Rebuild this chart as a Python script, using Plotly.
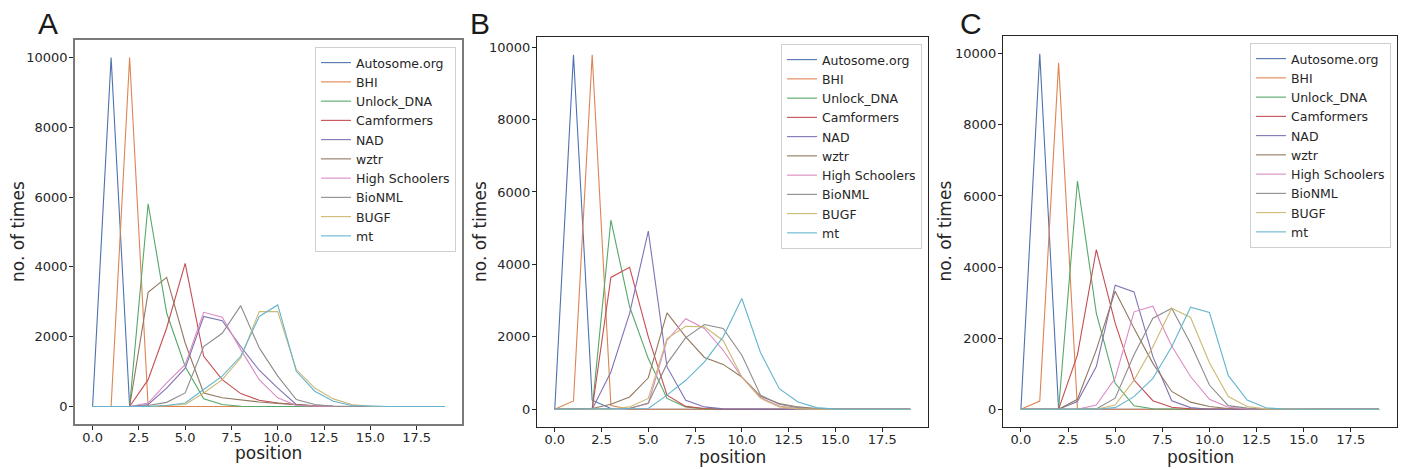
import plotly.graph_objects as go

positions = list(range(20))
team_names = ["Autosome.org", "BHI", "Unlock_DNA", "Camformers", "NAD", "wztr",
              "High Schoolers", "BioNML", "BUGF", "mt"]
team_colors = ["#4C72B0", "#DD8452", "#55A868", "#C44E52", "#8172B3", "#937860",
               "#DA8BC3", "#8C8C8C", "#CCB974", "#64B5CD"]
panel_letters = ["A", "B", "C"]
x_title = "position"
y_title = "no. of times"
x_tick_vals = [0, 2.5, 5, 7.5, 10, 12.5, 15, 17.5]
y_tick_vals = [0, 2000, 4000, 6000, 8000, 10000]

# ---- Panel A ----
a_autosome = [0, 10000, 0, 0, 0, 0, 0, 0, 0, 0, 0, 0, 0, 0, 0, 0, 0, 0, 0, 0]
a_bhi = [0, 0, 10000, 0, 0, 0, 0, 0, 0, 0, 0, 0, 0, 0, 0, 0, 0, 0, 0, 0]
a_unlock = [0, 0, 0, 5810, 2680, 1150, 220, 57, 10, 0, 0, 0, 0, 0, 0, 0, 0, 0, 0, 0]
a_camformers = [0, 0, 0, 770, 2250, 4100, 1440, 770, 370, 180, 100, 57, 20, 5, 0, 0, 0, 0, 0, 0]
a_nad = [0, 0, 0, 60, 530, 1100, 2580, 2460, 1720, 1040, 530, 60, 10, 0, 0, 0, 0, 0, 0, 0]
a_wztr = [0, 0, 0, 3270, 3700, 1820, 390, 250, 180, 130, 90, 50, 20, 10, 0, 0, 0, 0, 0, 0]
a_highschool = [0, 0, 0, 100, 680, 1200, 2700, 2560, 1630, 770, 250, 30, 5, 0, 0, 0, 0, 0, 0, 0]
a_bionml = [0, 0, 0, 30, 120, 390, 1720, 2100, 2890, 1680, 870, 200, 60, 10, 0, 0, 0, 0, 0, 0]
a_bugf = [0, 0, 0, 0, 30, 57, 390, 770, 1390, 2720, 2720, 1060, 530, 220, 57, 10, 0, 0, 0, 0]
a_mt = [0, 0, 0, 0, 30, 100, 490, 870, 1440, 2580, 2910, 1010, 440, 150, 30, 5, 0, 0, 0, 0]

# ---- Panel B ----
b_autosome = [0, 9790, 250, 20, 0, 0, 0, 0, 0, 0, 0, 0, 0, 0, 0, 0, 0, 0, 0, 0]
b_bhi = [0, 230, 9790, 100, 0, 0, 0, 0, 0, 0, 0, 0, 0, 0, 0, 0, 0, 0, 0, 0]
b_unlock = [0, 0, 0, 5225, 2830, 1400, 300, 65, 10, 0, 0, 0, 0, 0, 0, 0, 0, 0, 0, 0]
b_camformers = [0, 0, 0, 3640, 3920, 2000, 390, 80, 20, 0, 0, 0, 0, 0, 0, 0, 0, 0, 0, 0]
b_nad = [0, 0, 0, 1030, 2650, 4920, 1170, 250, 65, 10, 0, 0, 0, 0, 0, 0, 0, 0, 0, 0]
b_wztr = [0, 0, 20, 140, 340, 870, 2660, 2000, 1430, 1240, 890, 360, 160, 65, 20, 0, 0, 0, 0, 0]
b_highschool = [0, 0, 0, 0, 30, 160, 1900, 2500, 2230, 1630, 890, 320, 90, 20, 0, 0, 0, 0, 0, 0]
b_bionml = [0, 0, 0, 0, 20, 175, 1260, 1980, 2340, 2230, 1490, 390, 140, 45, 10, 0, 0, 0, 0, 0]
b_bugf = [0, 0, 0, 0, 65, 300, 1950, 2290, 2280, 1900, 890, 300, 65, 10, 0, 0, 0, 0, 0, 0]
b_mt = [0, 0, 0, 0, 0, 20, 390, 800, 1310, 2000, 3060, 1560, 570, 200, 45, 5, 0, 0, 0, 0]

# ---- Panel C ----
c_autosome = [0, 10000, 0, 0, 0, 0, 0, 0, 0, 0, 0, 0, 0, 0, 0, 0, 0, 0, 0, 0]
c_bhi = [0, 230, 9750, 0, 0, 0, 0, 0, 0, 0, 0, 0, 0, 0, 0, 0, 0, 0, 0, 0]
c_unlock = [0, 0, 0, 6420, 2700, 730, 95, 15, 0, 0, 0, 0, 0, 0, 0, 0, 0, 0, 0, 0]
c_camformers = [0, 0, 0, 1530, 4490, 2420, 820, 240, 55, 10, 0, 0, 0, 0, 0, 0, 0, 0, 0, 0]
c_nad = [0, 0, 0, 215, 1200, 3490, 3300, 1480, 240, 45, 0, 0, 0, 0, 0, 0, 0, 0, 0, 0]
c_wztr = [0, 0, 0, 280, 1670, 3320, 2280, 1290, 500, 200, 75, 20, 0, 0, 0, 0, 0, 0, 0, 0]
c_highschool = [0, 0, 0, 0, 120, 870, 2740, 2900, 1780, 920, 280, 55, 10, 0, 0, 0, 0, 0, 0, 0]
c_bionml = [0, 0, 0, 0, 10, 310, 1530, 2560, 2840, 1850, 680, 100, 30, 0, 0, 0, 0, 0, 0, 0]
c_bugf = [0, 0, 0, 0, 0, 120, 820, 1760, 2840, 2580, 1310, 355, 75, 10, 0, 0, 0, 0, 0, 0]
c_mt = [0, 0, 0, 0, 0, 45, 355, 870, 1760, 2870, 2720, 950, 260, 40, 5, 0, 0, 0, 0, 0]

panels = [
    [a_autosome, a_bhi, a_unlock, a_camformers, a_nad, a_wztr, a_highschool, a_bionml, a_bugf, a_mt],
    [b_autosome, b_bhi, b_unlock, b_camformers, b_nad, b_wztr, b_highschool, b_bionml, b_bugf, b_mt],
    [c_autosome, c_bhi, c_unlock, c_camformers, c_nad, c_wztr, c_highschool, c_bionml, c_bugf, c_mt],
]

W, H = 1405, 469
# panel frames in pixels: (left, right, top, bottom)
frames = [(75, 462, 40, 424), (537, 928, 37, 427), (1003, 1397, 36, 427)]
legend_pos = [(456, 47), (922, 44), (1391, 43)]
letter_pos = [(48, 24), (480, 24), (971, 24)]
ytitle_x = [18, 480, 945]
xtitle_y = [453, 457, 457]
spine_style = [("#7a7a7a", 1.8), ("#262626", 1.2), ("#262626", 1.2)]

FONT = "DejaVu Sans"
TXT = "#262626"

fig = go.Figure()
layout = dict(
    width=W, height=H,
    margin=dict(l=0, r=0, t=0, b=0),
    paper_bgcolor="white", plot_bgcolor="white",
    font=dict(family=FONT, size=13, color=TXT),
    annotations=[],
)

for i, series in enumerate(panels):
    sfx = "" if i == 0 else str(i + 1)
    leg = "legend" if i == 0 else "legend" + str(i + 1)
    for name, color, vals in zip(team_names, team_colors, series):
        fig.add_trace(go.Scatter(
            x=positions, y=vals, mode="lines", name=name,
            line=dict(color=color, width=1.1),
            xaxis="x" + sfx, yaxis="y" + sfx, legend=leg,
        ))
    l, r, t, b = frames[i]
    ymax = max(max(v) for v in series)
    xmin, xmax = min(positions), max(positions)
    xpad = 0.05 * (xmax - xmin)
    scol, swid = spine_style[i]
    layout["xaxis" + sfx] = dict(
        domain=[l / W, r / W], anchor="y" + sfx,
        range=[xmin - xpad, xmax + xpad],
        tickvals=x_tick_vals, tickformat=".1f",
        showline=True, mirror=True, linecolor=scol, linewidth=swid,
        ticks="outside", ticklen=4, tickwidth=1, tickcolor=TXT,
        showgrid=False, zeroline=False, ticklabelstandoff=-4,
        tickfont=dict(family=FONT, size=13, color=TXT),
    )
    layout["yaxis" + sfx] = dict(
        domain=[1 - b / H, 1 - t / H], anchor="x" + sfx,
        range=[-0.05 * ymax, 1.05 * ymax],
        tickvals=y_tick_vals, tickformat="d",
        showline=True, mirror=True, linecolor=scol, linewidth=swid,
        ticks="outside", ticklen=4, tickwidth=1, tickcolor=TXT,
        showgrid=False, zeroline=False, ticklabelstandoff=-1,
        tickfont=dict(family=FONT, size=13, color=TXT),
    )
    lx, ly = legend_pos[i]
    layout[leg] = dict(
        x=lx / W, y=1 - ly / H, xanchor="right", yanchor="top",
        xref="paper", yref="paper",
        bgcolor="rgba(255,255,255,0.8)", bordercolor="#d0d0d0", borderwidth=1,
        font=dict(family=FONT, size=12.5, color=TXT),
        itemwidth=30,
    )
    px_, py_ = letter_pos[i]
    layout["annotations"].append(dict(
        text=panel_letters[i], x=px_ / W, y=1 - py_ / H, xref="paper", yref="paper",
        xanchor="center", yanchor="middle", showarrow=False,
        font=dict(family="Liberation Sans", size=30, color="#1a1a1a"),
    ))
    # axis titles
    layout["annotations"].append(dict(
        text=x_title, x=(l + r) / 2 / W, y=1 - xtitle_y[i] / H, xref="paper", yref="paper",
        xanchor="center", yanchor="middle", showarrow=False, borderpad=0,
        font=dict(family=FONT, size=17, color=TXT),
    ))
    layout["annotations"].append(dict(
        text=y_title, x=ytitle_x[i] / W, y=1 - (t + b) / 2 / H, xref="paper", yref="paper",
        xanchor="center", yanchor="middle", showarrow=False, textangle=-90,
        font=dict(family=FONT, size=17, color=TXT),
    ))

fig.update_layout(**layout)
fig.write_html("out.html")
